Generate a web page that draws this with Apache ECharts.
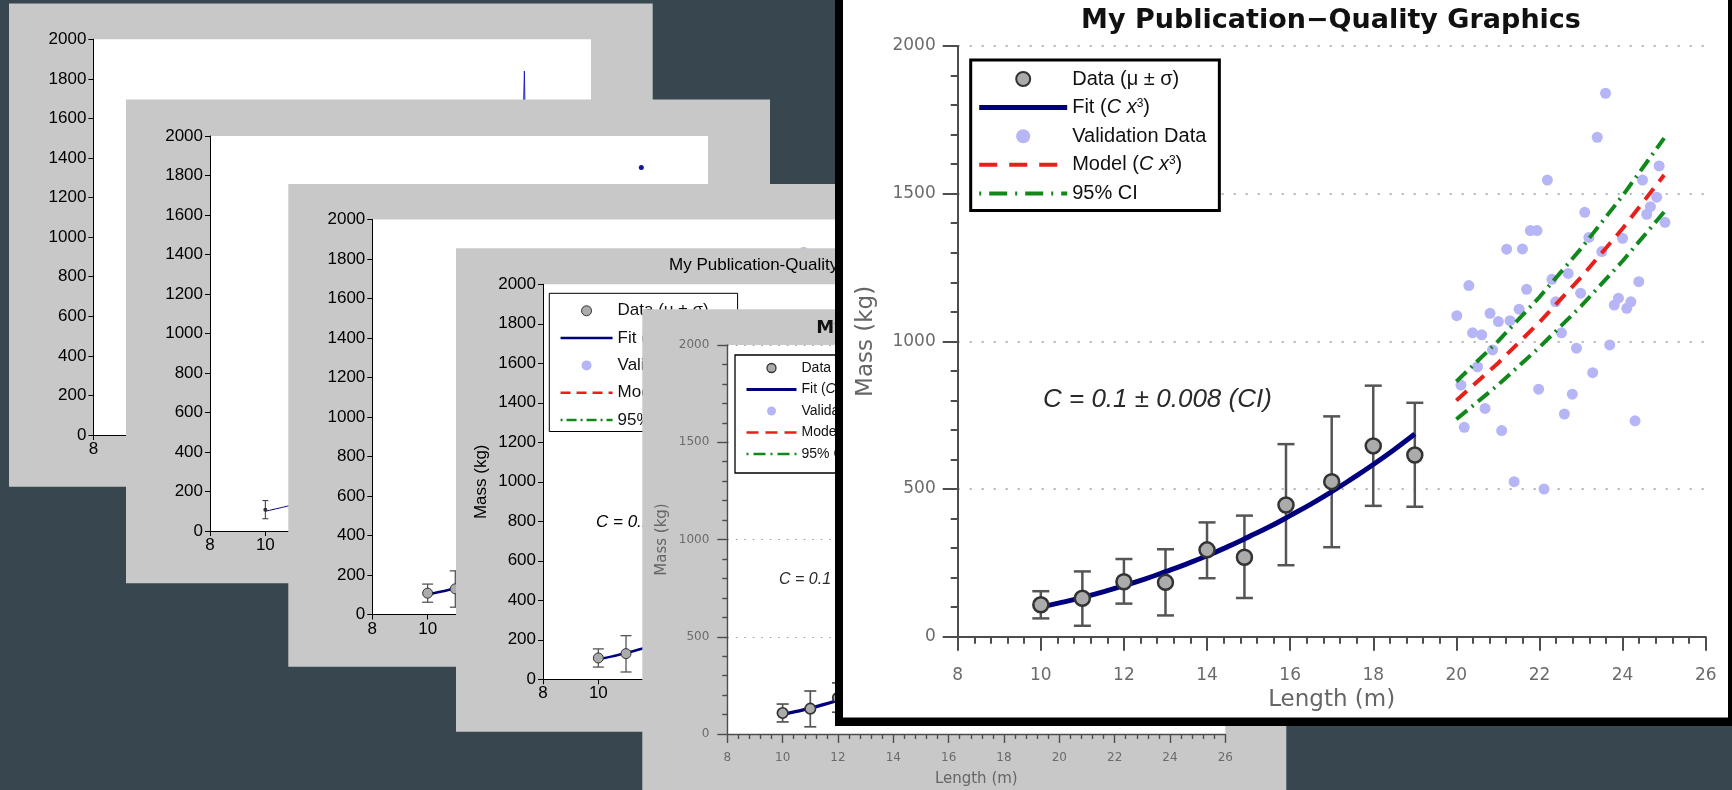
<!DOCTYPE html>
<html>
<head>
<meta charset="utf-8">
<title>My Publication-Quality Graphics</title>
<script src="https://cdn.jsdelivr.net/npm/echarts@6/dist/echarts.min.js"></script>
<style>
html, body { margin: 0; padding: 0; background: #37464f; }
#chart { width: 1732px; height: 790px; }
</style>
</head>
<body>
<div id="chart"></div>
<script>
// axis ranges / ticks
var xMin = 8, xMax = 26, xStep = 2;
var yMin = 0, yMax = 2000, yStepOld = 200, yStepNew = 500;

// measured data, mean and +/- sigma
var dataX = [10, 11, 12, 13, 14, 14.9, 15.9, 17, 18, 19];
var dataY = [108, 130, 186, 184, 294, 269, 446, 525, 646, 615];
var dataLow = [62, 37, 112, 72, 198, 131, 242, 303, 443, 440];
var dataHigh = [154, 221, 263, 296, 387, 410, 652, 746, 850, 792];

// fitted curve (C x^3)
var fitX = [10, 10.5, 11, 11.5, 12, 12.5, 13, 13.5, 14, 14.5, 15, 15.5, 16, 16.5, 17, 17.5, 18, 18.5, 19];
var fitY = [100, 116, 133, 152, 173, 195, 220, 246, 274, 305, 338, 372, 410, 449, 491, 536, 583, 633, 686];

// model + 95% CI over the validation range
var modelX = [20, 21, 22, 23, 24, 25];
var modelY = [800, 926, 1065, 1217, 1382, 1563];
var ciUpper = [864, 1000, 1150, 1314, 1493, 1688];
var ciLower = [736, 852, 980, 1119, 1272, 1438];

// validation data
var valX = [23.59, 23.39, 22.19, 24.88, 24.48, 24.82, 24.67, 24.58, 25.02, 23.09, 24.0, 23.19, 21.78, 21.94, 21.21,
  21.59, 23.5, 22.69, 22.30, 24.39, 20.30, 21.69, 22.99, 22.39, 23.90, 23.80, 24.20, 24.10, 21.51, 20.81, 21.29,
  21.01, 20.01, 20.39, 20.61, 22.53, 20.87, 22.89, 23.69, 20.51, 23.28, 20.11, 21.98, 22.79, 20.69, 22.60, 20.19,
  21.09, 24.30, 21.39, 22.11];
var valY = [1840, 1691, 1546, 1594, 1546, 1488, 1456, 1430, 1403, 1437, 1349, 1352, 1375, 1375, 1312,
  1313, 1304, 1230, 1210, 1202, 1189, 1176, 1163, 1134, 1146, 1123, 1134, 1112, 1109, 1095, 1070,
  1067, 1087, 1029, 1022, 1029, 971, 977, 988, 914, 894, 852, 838, 821, 773, 754, 709,
  698, 731, 525, 500];

var N_DATA = 'Data (μ ± σ)', N_FIT = 'Fit (C x3)', N_VAL = 'Validation Data', N_MOD = 'Model (C x3)', N_CI = '95% CI';
var legendLabel = {};
legendLabel[N_DATA] = 'Data (μ ± σ)';
legendLabel[N_FIT] = 'Fit ({i|C x}{s|3})';
legendLabel[N_VAL] = 'Validation Data';
legendLabel[N_MOD] = 'Model ({i|C x}{s|3})';
legendLabel[N_CI] = '95% CI';

var NAVY = '#00007f', RED = '#e8201c', GREEN = '#11881c', LAV = '#b6b6f7';
var MARK = '#ababab', EDGE = '#333333', ERR = '#555555';
var SANS = 'Liberation Sans', WIDE = 'DejaVu Sans';

function pairs(xs, ys) {
    return xs.map(function (x, i) { return [x, ys[i]]; });
}
var errData = dataX.map(function (x, i) { return [x, dataLow[i], dataHigh[i]]; });
var meanData = pairs(dataX, dataY);
var fitData = pairs(fitX, fitY);
var valData = pairs(valX, valY);
var valSorted = valData.slice().sort(function (a, b) { return a[0] - b[0]; });
var modelData = pairs(modelX, modelY);
var upData = pairs(modelX, ciUpper);
var lowData = pairs(modelX, ciLower);

function plain(v) { return String(v); }

var grids = [], xAxes = [], yAxes = [], series = [], legends = [], graphics = [];

// ---- series helpers
function errSeries(g, z, w, cap, color) {
    series.push({
        type: 'custom', name: 'errorbar', xAxisIndex: g, yAxisIndex: g, z: z,
        data: errData, encode: { x: 0, y: [1, 2] },
        renderItem: function (params, api) {
            var x = api.value(0);
            var a = api.coord([x, api.value(1)]);
            var b = api.coord([x, api.value(2)]);
            var st = { stroke: color, lineWidth: w };
            return {
                type: 'group', children: [
                    { type: 'line', shape: { x1: a[0], y1: a[1], x2: b[0], y2: b[1] }, style: st },
                    { type: 'line', shape: { x1: a[0] - cap, y1: a[1], x2: a[0] + cap, y2: a[1] }, style: st },
                    { type: 'line', shape: { x1: b[0] - cap, y1: b[1], x2: b[0] + cap, y2: b[1] }, style: st }
                ]
            };
        }
    });
}
function lineSeries(g, z, name, data, color, w, type, smooth) {
    series.push({
        type: 'line', name: name, xAxisIndex: g, yAxisIndex: g, z: z, data: data,
        symbol: 'none', smooth: !!smooth,
        lineStyle: { color: color, width: w, type: type || 'solid' }
    });
}
function dotSeries(g, z, name, data, size, color, border, bw) {
    series.push({
        type: 'scatter', name: name, xAxisIndex: g, yAxisIndex: g, z: z, data: data,
        symbol: 'circle', symbolSize: size,
        itemStyle: { color: color, borderColor: border || color, borderWidth: bw || 0, opacity: 1 }
    });
}

// ---- panel frames
function box(z, x, y, w, h, fill) {
    graphics.push({ type: 'rect', z: z, shape: { x: x, y: y, width: w, height: h }, style: { fill: fill } });
}
function text(z, x, y, str, font, color, align) {
    graphics.push({
        type: 'text', z: z, x: x, y: y,
        style: { text: str, font: font, fill: color, textAlign: align || 'left', textVerticalAlign: 'middle' }
    });
}
function grid(z, l, t, w, h, show) {
    grids.push({ left: l, top: t, width: w, height: h, show: show, backgroundColor: '#fff', borderWidth: 0, z: z });
}

// old MATLAB-looking axes
function plainAxes(g, z, yName, yGap) {
    xAxes.push({
        gridIndex: g, type: 'value', min: xMin, max: xMax, interval: xStep, z: z,
        axisLine: { onZero: false, lineStyle: { color: '#000', width: 1 } },
        axisTick: { length: 5, lineStyle: { color: '#000', width: 1 } },
        axisLabel: { margin: 6, color: '#000', fontSize: 17, fontFamily: SANS, showMinLabel: true, showMaxLabel: true, formatter: plain },
        splitLine: { show: false }
    });
    yAxes.push({
        gridIndex: g, type: 'value', min: yMin, max: yMax, interval: yStepOld, z: z,
        name: yName || '', nameLocation: 'middle', nameGap: yGap || 0, nameRotate: 90,
        nameTextStyle: { color: '#000', fontSize: 17, fontFamily: SANS },
        axisLine: { show: true, onZero: false, lineStyle: { color: '#000', width: 1 } },
        axisTick: { show: true, length: 5, lineStyle: { color: '#000', width: 1 } },
        axisLabel: { margin: 7, color: '#000', fontSize: 17, fontFamily: SANS, formatter: plain },
        splitLine: { show: false }
    });
}

// publication style axes, o holds the sizes
function pubAxes(g, z, o) {
    var ax = { color: '#4d4d4d', width: o.lw };
    xAxes.push({
        gridIndex: g, type: 'value', min: xMin, max: xMax, interval: xStep, z: z,
        name: 'Length (m)', nameLocation: 'middle', nameGap: o.gapX,
        nameTextStyle: { color: '#666', fontSize: o.nameFont, fontFamily: WIDE },
        axisLine: { onZero: false, lineStyle: ax },
        axisTick: { length: o.tickX, lineStyle: ax },
        minorTick: { show: true, splitNumber: 5, length: o.minor, lineStyle: ax },
        axisLabel: { margin: o.marginX, color: '#6b6b6b', fontSize: o.font, fontFamily: WIDE, showMinLabel: true, showMaxLabel: true, formatter: plain },
        splitLine: { show: false }
    });
    yAxes.push({
        gridIndex: g, type: 'value', min: yMin, max: yMax, interval: yStepNew, z: z,
        name: 'Mass (kg)', nameLocation: 'middle', nameGap: o.gapY, nameRotate: 90,
        nameTextStyle: { color: '#666', fontSize: o.nameFont, fontFamily: WIDE },
        axisLine: { show: true, onZero: false, lineStyle: ax },
        axisTick: { show: true, length: o.tickY, lineStyle: ax },
        minorTick: { show: true, splitNumber: 5, length: o.minor, lineStyle: ax },
        axisLabel: { margin: o.marginY, color: '#6b6b6b', fontSize: o.font, fontFamily: WIDE, formatter: plain },
        splitLine: { show: true, lineStyle: { color: '#9a9a9a', width: o.dotW, type: o.dash } }
    });
}

function legend(z, o) {
    var rich = {
        i: { fontStyle: 'italic', fontSize: o.font, fontFamily: SANS, lineHeight: o.font, color: '#111' },
        s: { fontSize: Math.round(o.font * 0.6), fontFamily: SANS, lineHeight: Math.round(o.font * 0.6), verticalAlign: 'top', color: '#111' }
    };
    var hide = { opacity: 0 };
    legends.push({
        z: z, orient: 'vertical', align: 'left', left: o.left, top: o.top, padding: o.pad,
        itemWidth: o.iw, itemHeight: o.ih, itemGap: o.gap, selectedMode: false,
        backgroundColor: '#fff', borderColor: '#000', borderWidth: o.bw, borderRadius: 0,
        textStyle: { fontFamily: SANS, fontSize: o.font, lineHeight: o.font, color: '#111', rich: rich },
        formatter: function (name) { return legendLabel[name]; },
        data: [
            { name: N_DATA, icon: 'circle', itemStyle: { color: MARK, borderColor: EDGE, borderWidth: o.mb } },
            { name: N_FIT, itemStyle: hide, lineStyle: { color: NAVY, width: o.fitW, type: 'solid' } },
            { name: N_VAL, icon: 'circle', itemStyle: { color: LAV, borderColor: LAV, borderWidth: 0 } },
            { name: N_MOD, itemStyle: hide, lineStyle: { color: RED, width: o.modW, type: o.modDash } },
            { name: N_CI, itemStyle: hide, lineStyle: { color: GREEN, width: o.modW, type: o.ciDash } }
        ]
    });
}

function fullSet(g, b, s) {
    errSeries(g, b + 3, s.errW, s.cap, ERR);
    lineSeries(g, b + 4, N_FIT, fitData, NAVY, s.fitW, 'solid', true);
    dotSeries(g, b + 4, N_VAL, valData, s.val, LAV);
    lineSeries(g, b + 5, N_MOD, modelData, RED, s.modW, s.modDash);
    lineSeries(g, b + 5, N_CI, upData, GREEN, s.modW, s.ciDash);
    lineSeries(g, b + 5, N_CI, lowData, GREEN, s.modW, s.ciDash);
    dotSeries(g, b + 5, N_DATA, meanData, s.mark, MARK, EDGE, s.mb);
}

// ---- panel 1 (back)
box(10, 9, 3.5, 643.7, 483.2, '#c8c8c8');
grid(11, 93.4, 39.3, 497.6, 395.7, true);
plainAxes(0, 12);
lineSeries(0, 13, 'validation line', valSorted, '#1d1dc8', 1, 'solid');

// ---- panel 2
box(20, 126, 99.5, 644, 483.8, '#c8c8c8');
grid(21, 210, 136, 498, 395, true);
plainAxes(1, 22);
errSeries(1, 23, 1, 3, '#333');
lineSeries(1, 24, 'fit thin', fitData, NAVY, 1, 'solid', true);
dotSeries(1, 25, 'data small', meanData, 4, '#333');
dotSeries(1, 25, 'val small', valData, 5, '#1414a0');

// ---- panel 3
box(30, 288.3, 184, 644, 482.7, '#c8c8c8');
grid(31, 372.3, 219.5, 498, 395, true);
plainAxes(2, 32);
fullSet(2, 30, { errW: 1.3, cap: 5.5, fitW: 2.5, val: 8, modW: 2.5, modDash: [10, 6], ciDash: [10, 4, 2, 4], mark: 10, mb: 1 });

// ---- panel 4
box(40, 456, 248.3, 644, 483.4, '#c8c8c8');
grid(41, 543, 284.3, 498, 395, true);
plainAxes(3, 42, 'Mass (kg)', 53);
fullSet(3, 40, { errW: 1.3, cap: 5.5, fitW: 2.5, val: 8, modW: 2.5, modDash: [10, 6], ciDash: [10, 4, 2, 4], mark: 10, mb: 1 });
text(47, 790, 265, 'My Publication-Quality Graphics', '17px "Liberation Sans"', '#000', 'center');
text(47, 596, 522, 'C = 0.1 ± 0.008 (CI)', 'italic 17px "Liberation Sans"', '#000');
legend(47, { left: 549.3, top: 293.3, pad: [9, 6, 3, 10], iw: 52, ih: 10, gap: 10.3, font: 17, bw: 1,
    mb: 1, fitW: 2.5, modW: 2.5, modDash: [10, 6], ciDash: [2, 4, 10, 4] });

// ---- panel 5
box(50, 642.3, 309.3, 644, 490, '#c8c8c8');
grid(51, 727.3, 345, 498, 389, true);
pubAxes(4, 52, { lw: 1.4, tickX: 9, tickY: 10, minor: 5, font: 12, marginX: 18, marginY: 18,
    nameFont: 15, gapX: 38, gapY: 58, dotW: 1, dash: [1.5, 7] });
fullSet(4, 50, { errW: 1.7, cap: 6, fitW: 3.3, val: 7.5, modW: 2.7, modDash: [10, 6], ciDash: [10, 4, 2, 4], mark: 10.5, mb: 1.7 });
text(57, 983, 328, 'My Publication−Quality Graphics', 'bold 18px "DejaVu Sans"', '#111', 'center');
text(57, 779, 580, 'C = 0.1 ± 0.008 (CI)', 'italic 16px "Liberation Sans"', '#2a2a2a');
legend(57, { left: 735, top: 355, pad: [6, 8, 12, 10], iw: 50, ih: 9, gap: 7.5, font: 14, bw: 1.3,
    mb: 1.3, fitW: 3, modW: 2.7, modDash: [12, 7], ciDash: [2, 5, 12, 5] });

// ---- front figure
box(59, 835, -10, 905, 736, '#000');
box(60, 843, -10, 885, 727.5, '#fff');
grid(61, 957.7, 46, 748, 590.7, false);
pubAxes(5, 62, { lw: 2, tickX: 14, tickY: 15, minor: 7, font: 17, marginX: 30, marginY: 22,
    nameFont: 23, gapX: 51, gapY: 80, dotW: 1.5, dash: [2, 10] });
fullSet(5, 60, { errW: 2.5, cap: 8.5, fitW: 5, val: 11, modW: 4, modDash: [14, 9], ciDash: [14, 6, 2, 6], mark: 15, mb: 2.5 });
text(67, 1331, 21, 'My Publication−Quality Graphics', 'bold 27px "DejaVu Sans"', '#111', 'center');
text(67, 1043, 400, 'C = 0.1 ± 0.008 (CI)', 'italic 26px "Liberation Sans"', '#2a2a2a');
legend(67, { left: 970.7, top: 60, pad: [9, 13, 7, 6], iw: 88, ih: 14, gap: 8.6, font: 20, bw: 3,
    mb: 2, fitW: 5, modW: 4, modDash: [18, 12], ciDash: [2, 8, 18, 8] });

var chart = echarts.init(document.getElementById('chart'));
chart.setOption({
    backgroundColor: '#37464f',
    animation: false,
    grid: grids,
    xAxis: xAxes,
    yAxis: yAxes,
    legend: legends,
    graphic: { elements: graphics },
    series: series
});
</script>
</body>
</html>
